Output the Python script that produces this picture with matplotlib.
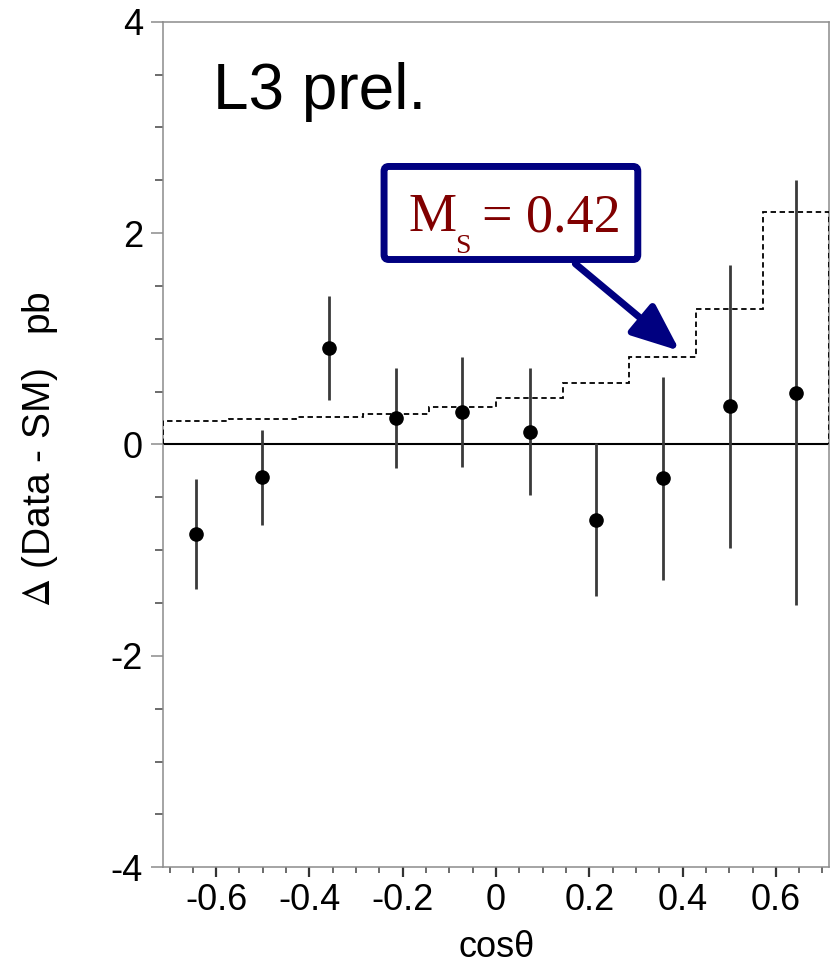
import matplotlib
matplotlib.use("Agg")
import matplotlib.pyplot as plt
from matplotlib.patches import FancyBboxPatch
from matplotlib.ticker import MultipleLocator, FixedLocator

plt.rcParams['font.family'] = ['Liberation Sans', 'DejaVu Sans']
plt.rcParams['axes.unicode_minus'] = False
plt.rcParams['mathtext.fontset'] = 'stix'

# bin edges and centres in cos(theta)
bin_edges = [-0.715, -0.572, -0.429, -0.286, -0.143, 0.0, 0.143, 0.286, 0.429, 0.572, 0.715]
cos_centers = [-0.644, -0.501, -0.358, -0.215, -0.072, 0.072, 0.215, 0.358, 0.501, 0.644]

# measured difference Data - SM (pb) with uncertainties
delta = [-0.85, -0.31, 0.91, 0.25, 0.31, 0.12, -0.71, -0.32, 0.36, 0.49]
delta_err = [0.52, 0.45, 0.49, 0.47, 0.52, 0.60, 0.72, 0.96, 1.34, 2.01]

# expected difference for M_S = 0.42
expected = [0.225, 0.238, 0.26, 0.29, 0.35, 0.437, 0.585, 0.83, 1.28, 2.20]

x_ticks = [-0.6, -0.4, -0.2, 0, 0.2, 0.4, 0.6]
x_tick_labels = ['-0.6', '-0.4', '-0.2', '0', '0.2', '0.4', '0.6']
y_ticks = [-4, -2, 0, 2, 4]
y_tick_labels = ['-4', '-2', '0', '2', '4']

W, H = 836, 967
fig = plt.figure(figsize=(W / 100, H / 100), dpi=100)
ax = fig.add_axes([0.1944, 0.1031, 0.7978, 0.8745])


def fx(px):
    return px / W


def fy(py):
    return 1 - py / H


spine_col = '#8c8c8c'
for s in ax.spines.values():
    s.set_color(spine_col)
    s.set_linewidth(1.1)

ax.axhline(0, color='black', lw=1.5, zorder=2)

ax.stairs(expected, bin_edges, baseline=0, color='black', lw=1.3,
          linestyle=(0, (3, 2)), zorder=3)

ax.errorbar(cos_centers, delta, yerr=delta_err, fmt='o', color='black',
            ecolor='#3a3a3a', elinewidth=2.0, capsize=0, markersize=9.5,
            zorder=4)

ax.set_xlim(bin_edges[0], bin_edges[-1])
ax.set_ylim(-4, 4)

ax.xaxis.set_major_locator(FixedLocator(x_ticks))
ax.set_xticklabels(x_tick_labels)
ax.xaxis.set_minor_locator(MultipleLocator(0.05))
ax.yaxis.set_major_locator(FixedLocator(y_ticks))
ax.set_yticklabels(y_tick_labels)
ax.yaxis.set_minor_locator(MultipleLocator(0.5))

ax.tick_params(axis='x', which='major', direction='out', length=7.5, width=1.6,
               color='#333333', labelsize=26, pad=4)
ax.tick_params(axis='x', which='minor', direction='out', length=4, width=1.1,
               color='#444444')
ax.tick_params(axis='y', which='major', direction='out', length=9, width=1.1,
               color=spine_col, labelsize=26, pad=5)
ax.tick_params(axis='y', which='minor', direction='out', length=5.5, width=1.1,
               color='#444444')
ax.tick_params(top=False, right=False)

fig.text(fx(40), fy(449), r'$\Delta$ (Data - SM)   pb',
         rotation=90, ha='center', va='center', fontsize=28)
fig.text(fx(497), fy(957), 'cos\u03b8', ha='center', va='baseline',
         fontsize=26)
fig.text(fx(213), fy(109), 'L3 prel.', ha='left', va='baseline',
         fontsize=46)

# annotation box with arrow
navy = '#000080'
dark_red = '#800000'
box = FancyBboxPatch((-0.240, 1.75), 0.544, 0.88,
                     boxstyle='round,pad=0,rounding_size=0.01',
                     facecolor='white', edgecolor=navy, lw=5,
                     mutation_aspect=4.5, zorder=6)
ax.add_patch(box)

serif = ['Liberation Serif', 'DejaVu Serif']
fig.text(fx(408), fy(231), 'M', ha='left', va='baseline', fontsize=39,
         color=dark_red, family=serif, zorder=7)
fig.text(fx(455), fy(253), 'S', ha='left', va='baseline', fontsize=20,
         color=dark_red, family=serif, zorder=7)
fig.text(fx(482), fy(231), '= 0.42', ha='left', va='baseline', fontsize=39,
         color=dark_red, family=serif, zorder=7)

ax.annotate('', xy=(0.394, 0.885), xytext=(0.17, 1.71),
            arrowprops=dict(arrowstyle='-|>,head_length=2.9,head_width=1.2',
                            mutation_scale=10, lw=5, color=navy,
                            shrinkA=0, shrinkB=0),
            zorder=6)

fig.savefig('out.png', dpi=100)
